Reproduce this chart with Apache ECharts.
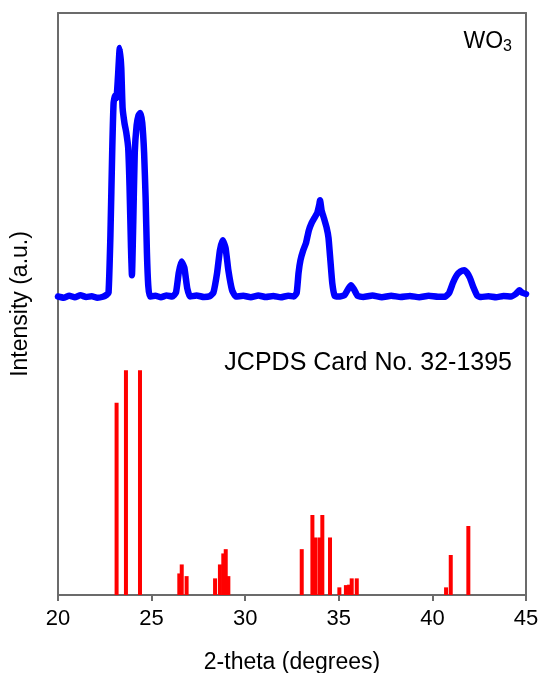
<!DOCTYPE html>
<html>
<head>
<meta charset="utf-8">
<script src="https://cdn.jsdelivr.net/npm/echarts@6/dist/echarts.min.js"></script>
<style>
  html, body { margin: 0; padding: 0; background: #fff; }
  #xrd { width: 541px; height: 673px; }
</style>
</head>
<body>
<div id="xrd"></div>
<script>
// measured WO3 pattern, 2-theta (deg) and intensity above baseline
var twoTheta = [20.0, 20.3, 20.6, 20.9, 21.2, 21.5, 21.8, 22.1, 22.4, 22.6, 22.7, 22.8, 22.9, 22.97,
  23.05, 23.12, 23.2, 23.3, 23.38, 23.45, 23.55, 23.65, 23.75, 23.82, 23.9, 23.95, 24.02, 24.1,
  24.2, 24.3, 24.4, 24.5, 24.6, 24.68, 24.75, 24.82, 24.9, 25.2, 25.5, 25.8, 26.1, 26.3, 26.45,
  26.6, 26.75, 26.9, 27.05, 27.4, 27.8, 28.1, 28.3, 28.5, 28.65, 28.8, 28.95, 29.1, 29.3, 29.5,
  29.9, 30.3, 30.7, 31.1, 31.5, 31.9, 32.3, 32.6, 32.75, 32.85, 32.95, 33.1, 33.25, 33.4, 33.55,
  33.7, 33.85, 33.95, 34.0, 34.08, 34.2, 34.35, 34.45, 34.55, 34.65, 34.78, 35.0, 35.3, 35.5,
  35.65, 35.8, 36.0, 36.3, 36.8, 37.3, 37.8, 38.3, 38.8, 39.3, 39.8, 40.3, 40.7, 40.9, 41.1,
  41.3, 41.5, 41.7, 41.85, 42.0, 42.2, 42.4, 42.6, 43.0, 43.4, 43.8, 44.2, 44.45, 44.65, 44.8, 45.0]
var intensity = [0.5, 0, 0.8, 0.2, 1.0, 0.3, 0.6, 0, 0.4, 1.2, 2, 25, 60, 78,
  81, 80, 88, 100, 92, 76, 70, 66, 60, 45, 20, 9, 30, 58,
  69, 73, 74, 70, 58, 40, 18, 5, 0.5, 0.8, 0.2, 0.9, 0.5, 2, 10,
  14.5, 12, 4, 0.5, 0.9, 0.3, 0.6, 2, 10, 19, 23, 20, 11, 3, 0.5,
  0.8, 0.2, 0.9, 0.3, 0.7, 0.2, 0.8, 0.5, 2, 10, 15, 19, 22, 27, 30,
  32, 34, 37, 39, 35, 32, 28, 24, 15, 6, 0.8, 0.5, 1, 3.5,
  5, 3.5, 0.8, 0.3, 0.9, 0.2, 0.8, 0.3, 0.7, 0.2, 0.8, 0.4, 0.5, 2, 6,
  9, 10.5, 11, 10, 8, 4, 0.8, 0.3, 0.6, 0.2, 0.7, 0.5, 1.5, 3, 2, 1.5]

// JCPDS 32-1395 reference lines
var refAngle = [23.13, 23.63, 24.38, 26.48, 26.61, 26.87, 28.39, 28.65, 28.83, 28.96, 29.1,
  33.02, 33.59, 33.73, 33.96, 34.12, 34.53, 35.03, 35.38, 35.55, 35.69, 35.96,
  40.73, 40.98, 41.92]
var refIntensity = [85.5, 100, 100, 9.6, 13.6, 8.4, 7.4, 13.6, 18.5, 20.4, 8.4,
  20.4, 35.6, 25.6, 25.6, 35.6, 25.6, 3.4, 4.4, 4.6, 7.4, 7.4,
  3.4, 17.8, 30.7]

var xTicks = [20, 25, 30, 35, 40, 45]

var curve = twoTheta.map(function (t, i) { return [t, intensity[i]] })
var sticks = refAngle.map(function (t, i) { return [t, refIntensity[i]] })

var frame = { show: true, onZero: false, lineStyle: { color: '#6b6b6b', width: 2 } }
var font = 'Liberation Sans, Arial, sans-serif'

var chart = echarts.init(document.getElementById('xrd'))
chart.setOption({
  animation: false,
  grid: { left: 58, right: 15, top: 13, bottom: 78, outerBoundsMode: 'none' },
  xAxis: [{
    type: 'value',
    min: xTicks[0],
    max: xTicks[xTicks.length - 1],
    interval: 5,
    name: '2-theta (degrees)',
    nameLocation: 'middle',
    nameGap: 56,
    nameTextStyle: { fontFamily: font, fontSize: 23, color: '#000' },
    axisLine: frame,
    axisTick: { show: true, inside: false, length: 6, lineStyle: { color: '#6b6b6b', width: 2 } },
    axisLabel: { fontFamily: font, fontSize: 22, color: '#000', margin: 13 },
    splitLine: { show: false }
  }, {
    type: 'value',
    position: 'top',
    min: 20,
    max: 45,
    axisLine: frame,
    axisTick: { show: false },
    axisLabel: { show: false },
    splitLine: { show: false }
  }],
  yAxis: [{
    type: 'value',
    min: -119,
    max: 114,
    name: 'Intensity (a.u.)',
    nameLocation: 'middle',
    nameGap: 26,
    nameTextStyle: { fontFamily: font, fontSize: 23, color: '#000' },
    axisLine: frame,
    axisTick: { show: false },
    axisLabel: { show: false },
    splitLine: { show: false }
  }, {
    type: 'value',
    position: 'right',
    min: 0,
    max: 259,
    axisLine: frame,
    axisTick: { show: false },
    axisLabel: { show: false },
    splitLine: { show: false }
  }],
  series: [{
    type: 'line',
    data: curve,
    xAxisIndex: 0,
    yAxisIndex: 0,
    showSymbol: false,
    smooth: 0.15,
    lineStyle: { color: '#0000ff', width: 6.5, join: 'round', cap: 'round' }
  }, {
    type: 'bar',
    data: sticks,
    xAxisIndex: 0,
    yAxisIndex: 1,
    barWidth: 4,
    itemStyle: { color: '#ff0000' }
  }],
  graphic: [{
    type: 'text',
    right: 29,
    top: 30,
    style: {
      text: '{m|WO}{s|3}',
      rich: {
        m: { fontFamily: font, fontSize: 23, fill: '#000' },
        s: { fontFamily: font, fontSize: 16, fill: '#000', padding: [10, 0, 0, 0] }
      }
    }
  }, {
    type: 'text',
    right: 29,
    top: 351,
    style: { text: 'JCPDS Card No. 32-1395', fontFamily: font, fontSize: 25, fill: '#000' }
  }]
})
</script>
</body>
</html>
